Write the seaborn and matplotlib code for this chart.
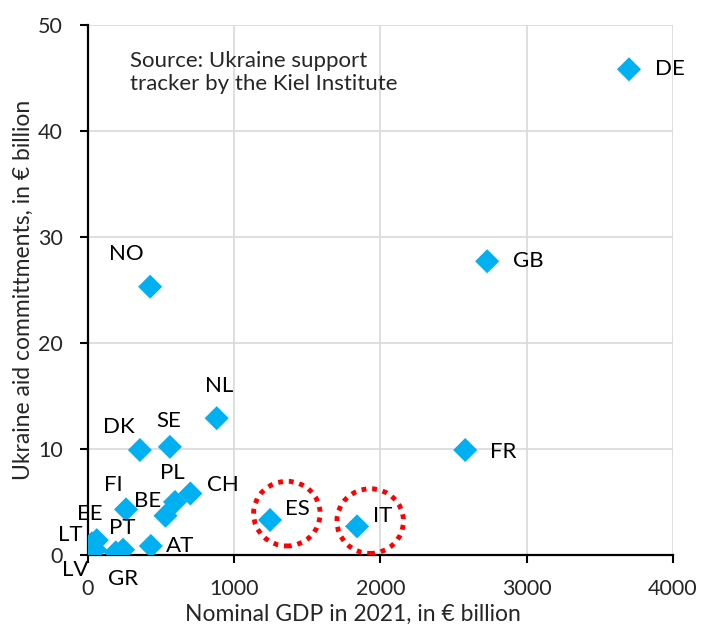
import seaborn as sns
import pandas as pd
import matplotlib.pyplot as plt
from matplotlib.patches import Ellipse

# Datos
paises = ['DE', 'GB', 'FR', 'NO', 'NL', 'SE', 'DK', 'CH', 'PL', 'BE', 'FI',
          'AT', 'ES', 'IT', 'PT', 'GR', 'EE', 'LT', 'LV']
pib = [3700, 2730, 2580, 425, 880, 560, 355, 700, 595, 530, 260,
       430, 1245, 1840, 240, 190, 60, 27, 48]
ayuda = [45.8, 27.7, 9.9, 25.3, 12.9, 10.2, 9.9, 5.8, 5.0, 3.7, 4.3,
         0.85, 3.3, 2.7, 0.5, 0.25, 1.4, 1.1, 0.5]
# desplazamiento de etiquetas en pixeles (x, y hacia arriba)
offsets = {'DE': (41, 0), 'GB': (41, 0), 'FR': (38, -2), 'NO': (-24, 33),
           'NL': (2, 32), 'SE': (-1, 26), 'DK': (-21, 23), 'CH': (33, 8),
           'PL': (-3, 29), 'BE': (-18, 15), 'FI': (-13, 24), 'AT': (29, 0),
           'ES': (27, 11), 'IT': (26, 10), 'PT': (-1, 22), 'GR': (7, -27),
           'EE': (-7, 26), 'LT': (-22, 8), 'LV': (-20, -20)}

df = pd.DataFrame({'pais': paises, 'pib': pib, 'ayuda': ayuda})

sns.set_style("whitegrid")
plt.rcParams['font.family'] = ['Lato', 'DejaVu Sans']

fig = plt.figure(figsize=(7.12, 6.35), dpi=100)
ax = fig.add_axes([0.1236, 0.126, 0.8214, 0.835])
sns.scatterplot(data=df, x='pib', y='ayuda', marker='D', color='#00B0F0',
                s=150, edgecolor='none', ax=ax, zorder=3)

for p, x, y in zip(paises, pib, ayuda):
    dx, dy = offsets[p]
    ax.annotate(p, (x, y), xytext=(dx, dy), textcoords='offset pixels',
                ha='center', va='center', fontsize=16, color='black')

# circulos rojos punteados
for cx, cy in [(1360, 3.9), (1930, 3.2)]:
    ax.add_patch(Ellipse((cx, cy), 455, 6.1, fill=False, edgecolor='red',
                         linestyle=(0, (1, 1.2)), linewidth=3.5, zorder=4))

ax.text(290, 47.5, 'Source: Ukraine support\ntracker by the Kiel Institute',
        fontsize=16, va='top', ha='left', linespacing=1.15)

ax.set_xlim(0, 4000)
ax.set_ylim(0, 50)
ax.set_xticks([0, 1000, 2000, 3000, 4000])
ax.set_yticks([0, 10, 20, 30, 40, 50])
ax.set_xlabel('Nominal GDP in 2021, in € billion', fontsize=16.5)
ax.set_ylabel('Ukraine aid committments, in € billion', fontsize=16.5, labelpad=3)
ax.xaxis.set_label_coords(0.453, -0.093)
ax.tick_params(labelsize=15.5, length=6, width=1.5, color='black', direction='out',
               bottom=True, left=True)
ax.tick_params(axis='x', pad=11)
ax.tick_params(axis='y', pad=12)
ax.grid(True, color='#D9D9D9', linewidth=1.2)
for s in ['top', 'right']:
    ax.spines[s].set_visible(False)
for s in ['left', 'bottom']:
    ax.spines[s].set_color('black')
    ax.spines[s].set_linewidth(1.6)

fig.savefig('out.png', dpi=100)
